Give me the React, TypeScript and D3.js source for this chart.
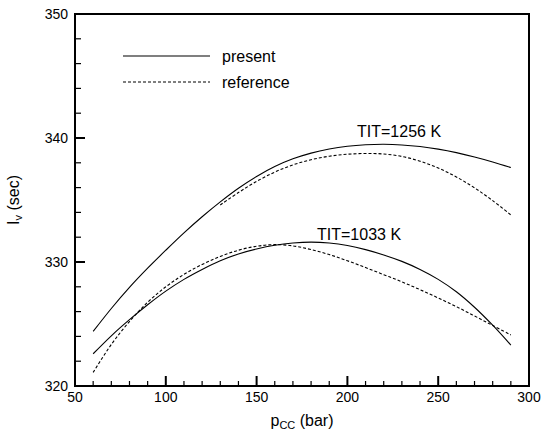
import * as d3 from "d3";

// pressure in combustion chamber (bar)
const pcc = [60, 70, 80, 90, 100, 110, 120, 130, 140, 150, 160, 170, 180, 190, 200, 210, 220, 230, 240, 250, 260, 270, 280, 290];
const pccRef1256 = pcc.filter((p) => p >= 130);

// specific impulse (sec)
const present1256 = [324.4, 326.25, 327.95, 329.5, 330.95, 332.35, 333.65, 334.85, 335.95, 336.9, 337.7, 338.32, 338.78, 339.11, 339.33, 339.45, 339.49, 339.44, 339.31, 339.1, 338.82, 338.47, 338.07, 337.62];
const reference1256 = [334.6, 335.6, 336.5, 337.25, 337.83, 338.25, 338.53, 338.69, 338.75, 338.71, 338.51, 338.13, 337.58, 336.86, 335.98, 334.95, 333.8];
const present1033 = [322.6, 324.05, 325.35, 326.55, 327.65, 328.6, 329.4, 330.1, 330.65, 331.05, 331.35, 331.53, 331.6, 331.53, 331.33, 331.0, 330.57, 330.05, 329.4, 328.6, 327.6, 326.35, 324.9, 323.3];
const reference1033 = [321.1, 323.35, 325.2, 326.75, 328.0, 329.0, 329.8, 330.45, 330.95, 331.27, 331.4, 331.3, 331.0, 330.6, 330.1, 329.55, 328.98, 328.4, 327.77, 327.1, 326.4, 325.65, 324.88, 324.12];

const xTicks = [50, 100, 150, 200, 250, 300];
const yTicks = [320, 330, 340, 350];

const W = 541;
const H = 436;
const left = 75, right = 529, top = 14, bottom = 386;
const font = "'Liberation Sans', Arial, sans-serif";

export default function App() {
  const x = d3.scaleLinear().domain([50, 300]).range([left, right]);
  const y = d3.scaleLinear().domain([320, 350]).range([bottom, top]);

  const line = d3
    .line<[number, number]>()
    .x((d) => x(d[0]))
    .y((d) => y(d[1]))
    .curve(d3.curveCatmullRom.alpha(0.5));

  const pair = (xs: number[], ys: number[]) => xs.map((v, i) => [v, ys[i]] as [number, number]);

  const xMinor = d3.range(50, 301, 10).filter((v) => v % 50 !== 0);
  const yMinor = d3.range(320, 351, 2).filter((v) => v % 10 !== 0);

  return (
    <svg width={W} height={H} style={{ position: "absolute", left: 0, top: 0 }} fontFamily={font}>
      <rect x={0} y={0} width={W} height={H} fill="#fff" />

      {/* curves */}
      <g fill="none" stroke="#000" strokeWidth={1.1}>
        <path d={line(pair(pcc, present1256)) ?? ""} />
        <path d={line(pair(pcc, present1033)) ?? ""} />
        <path d={line(pair(pccRef1256, reference1256)) ?? ""} strokeDasharray="3,2" />
        <path d={line(pair(pcc, reference1033)) ?? ""} strokeDasharray="3,2" />
      </g>

      {/* frame */}
      <rect x={left} y={top} width={right - left} height={bottom - top} fill="none" stroke="#000" strokeWidth={2} />

      {/* ticks */}
      <g stroke="#000" strokeWidth={2}>
        {xTicks.map((t) => (
          <line key={"xm" + t} x1={x(t)} x2={x(t)} y1={bottom} y2={bottom - 10} />
        ))}
        {xMinor.map((t) => (
          <line key={"xn" + t} x1={x(t)} x2={x(t)} y1={bottom} y2={bottom - 5} strokeWidth={1.2} />
        ))}
        {yTicks.map((t) => (
          <line key={"ym" + t} x1={left} x2={left + 10} y1={y(t)} y2={y(t)} />
        ))}
        {yMinor.map((t) => (
          <line key={"yn" + t} x1={left} x2={left + 6} y1={y(t)} y2={y(t)} strokeWidth={1.2} />
        ))}
      </g>

      {/* tick labels */}
      <g fontSize={14} fill="#000">
        {xTicks.map((t) => (
          <text key={"xl" + t} x={x(t)} y={402} textAnchor="middle">
            {t}
          </text>
        ))}
        {yTicks.map((t) => (
          <text key={"yl" + t} x={68} y={y(t)} dy="0.35em" textAnchor="end">
            {t}
          </text>
        ))}
      </g>

      {/* axis titles */}
      <text x={302} y={426} textAnchor="middle" fontSize={16}>
        p<tspan fontSize={11} dy={3}>CC</tspan>
        <tspan dy={-3}> (bar)</tspan>
      </text>
      <text transform={`translate(19,${(top + bottom) / 2}) rotate(-90)`} textAnchor="middle" fontSize={16}>
        I<tspan fontSize={11} dy={3}>v</tspan>
        <tspan dy={-3}> (sec)</tspan>
      </text>

      {/* legend */}
      <g stroke="#000" strokeWidth={1.1}>
        <line x1={123} x2={210} y1={56} y2={56} />
        <line x1={123} x2={210} y1={82} y2={82} strokeDasharray="3,2" />
      </g>
      <g fontSize={16}>
        <text x={222} y={62}>present</text>
        <text x={222} y={88}>reference</text>
      </g>

      {/* annotations */}
      <text x={357} y={137} fontSize={16}>TIT=1256 K</text>
      <text x={317} y={240} fontSize={16}>TIT=1033 K</text>
    </svg>
  );
}
